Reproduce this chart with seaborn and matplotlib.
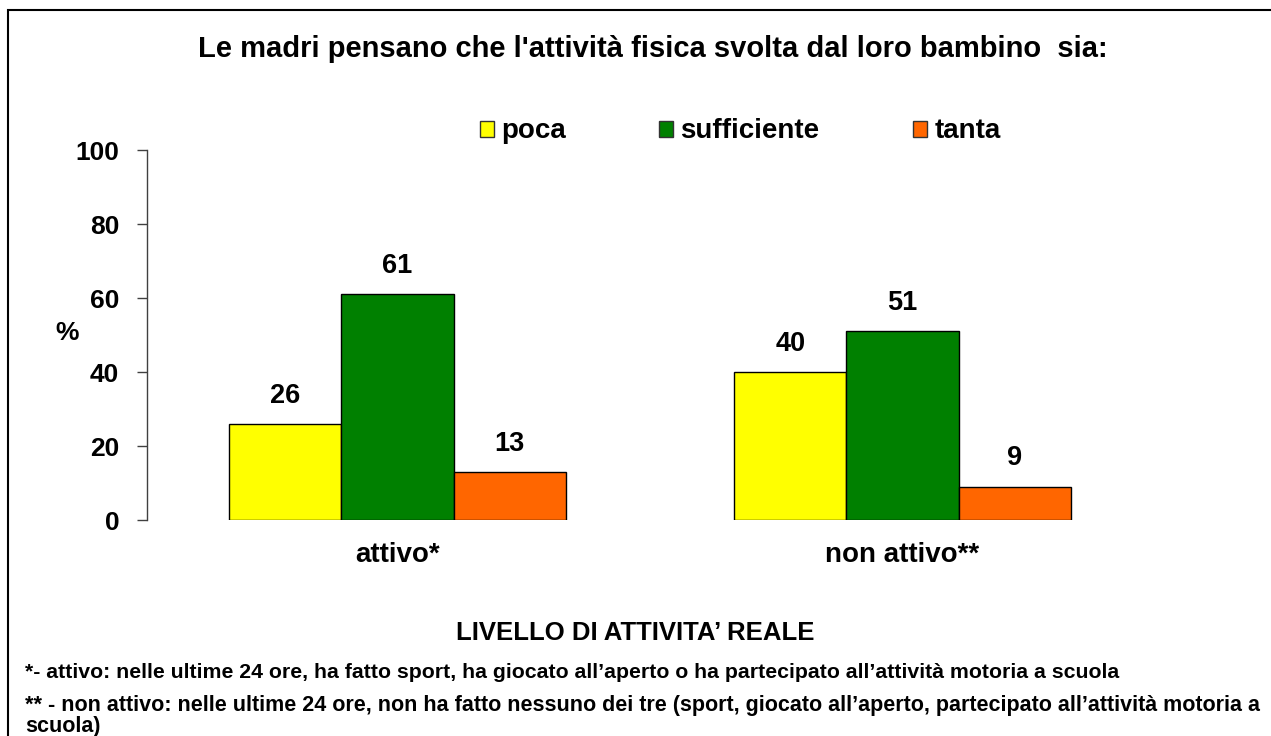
import pandas as pd
import matplotlib.pyplot as plt
import seaborn as sns
from matplotlib.patches import Rectangle

# Data
livelli = ["attivo*", "non attivo**"]
giudizi = ["poca", "sufficiente", "tanta"]
poca = [26, 40]
sufficiente = [61, 51]
tanta = [13, 9]
colori = ["#FFFF00", "#008000", "#FF6600"]

df = pd.DataFrame({
    "livello": livelli * 3,
    "giudizio": [g for g in giudizi for _ in livelli],
    "pct": poca + sufficiente + tanta,
})

sns.set_style("white")
plt.rcParams["font.family"] = ["Liberation Sans", "DejaVu Sans"]
plt.rcParams["font.weight"] = "bold"
plt.rcParams["text.color"] = "black"
plt.rcParams["axes.labelcolor"] = "black"

fig = plt.figure(figsize=(12.71, 7.36), dpi=100)
ax = fig.add_axes([147 / 1271, 1 - 520 / 736, (1153 - 147) / 1271, 370 / 736])

sns.barplot(data=df, x="livello", y="pct", hue="giudizio", order=livelli,
            hue_order=giudizi, palette=colori, width=0.667, gap=0,
            edgecolor="black", linewidth=1, saturation=1, ax=ax)

for c in ax.containers:
    ax.bar_label(c, fmt="%d", padding=11, fontsize=19.5, fontweight="bold",
                 color="black")

ax.set_ylim(0, 100)
ax.set_xlim(-0.496, 1.496)
ax.set_yticks([0, 20, 40, 60, 80, 100])
ax.tick_params(axis="y", direction="out", length=7, width=1, color="#404040",
               pad=13, labelsize=19, labelcolor="black", left=True)
ax.tick_params(axis="x", length=0, pad=16, labelsize=20, labelcolor="black")
for lab in ax.get_xticklabels() + ax.get_yticklabels():
    lab.set_fontweight("bold")

for s in ["top", "right", "bottom"]:
    ax.spines[s].set_visible(False)
ax.spines["left"].set_color("#404040")
ax.spines["left"].set_linewidth(1)

ax.set_xlabel("")
ax.set_ylabel("%", rotation=0, fontsize=19, fontweight="bold", va="center")
ax.yaxis.set_label_coords(-0.079, 0.505)

leg = ax.legend(ncol=3, loc="center left", bbox_to_anchor=(333 / 1006, 1.05),
                frameon=False, fontsize=20, handlelength=0.5, handleheight=0.5,
                handletextpad=0.25, columnspacing=3.38, borderaxespad=0,
                borderpad=0)
for t in leg.get_texts():
    t.set_fontweight("bold")
for h in leg.legend_handles:
    h.set_edgecolor("#333333")

fig.text(652.5 / 1271, 1 - 49 / 736, "Le madri pensano che l'attività fisica svolta dal loro bambino  sia:",
         ha="center", va="center", fontsize=21, fontweight="bold")
fig.text(635.5 / 1271, 1 - 633 / 736, "LIVELLO DI ATTIVITA\u2019 REALE",
         ha="center", va="center", fontsize=18.5, fontweight="bold")

fig.text(25 / 1271, 1 - 672 / 736,
         "*- attivo: nelle ultime 24 ore, ha fatto sport, ha giocato all\u2019aperto o ha partecipato all\u2019attività motoria a scuola",
         ha="left", va="center", fontsize=15.3, fontweight="bold")
fig.text(25 / 1271, 1 - 716 / 736,
         "** - non attivo: nelle ultime 24 ore, non ha fatto nessuno dei tre (sport, giocato all\u2019aperto, partecipato all\u2019attività motoria a\nscuola)",
         ha="left", va="center", fontsize=15.5, fontweight="bold", linespacing=1.0)

fig.add_artist(Rectangle((8 / 1271, -0.05), 1.2, 1 - 10 / 736 + 0.05,
                         transform=fig.transFigure, fill=False,
                         edgecolor="black", linewidth=1.5))

fig.savefig("out.png", dpi=100)
